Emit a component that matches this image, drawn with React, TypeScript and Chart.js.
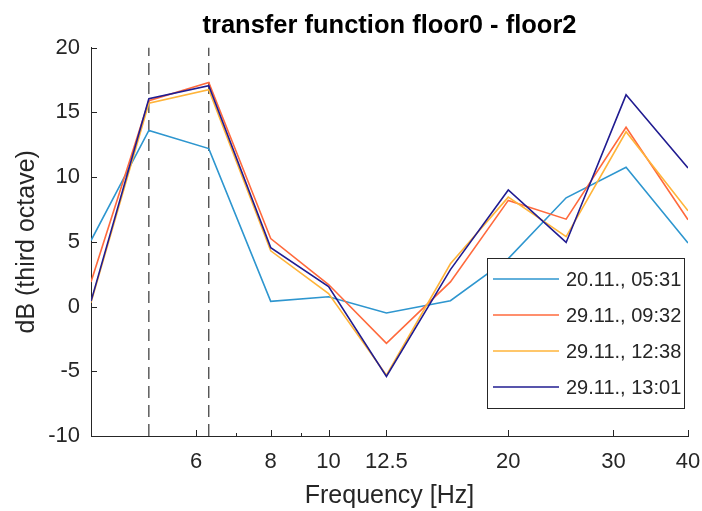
import React, { useEffect, useRef } from "react";
import { Chart, registerables } from "chart.js";

Chart.register(...registerables);

// ---- data ----
const frequencies = [4, 5, 6.3, 8, 10, 12.5, 16, 20, 25, 31.5, 40];
const seriesLabels = ["20.11., 05:31", "29.11., 09:32", "29.11., 12:38", "29.11., 13:01"];
const series0531 = [5.1, 13.6, 12.2, 0.4, 0.75, -0.5, 0.45, 3.7, 8.4, 10.75, 4.9];
const series0932 = [1.9, 15.9, 17.3, 5.25, 1.7, -2.85, 1.9, 8.2, 6.75, 13.85, 6.7];
const series1238 = [0.3, 15.7, 16.75, 4.3, 1.0, -5.3, 3.3, 8.45, 5.4, 13.5, 7.4];
const series1301 = [0.4, 16.05, 17.05, 4.55, 1.55, -5.4, 2.85, 9.0, 4.95, 16.35, 10.7];
const seriesValues = [series0531, series0932, series1238, series1301];
const seriesColors = ["#2E96CF", "#FF6A3D", "#FFB43A", "#211C91"];
const markerFrequencies = [5, 6.3];
const xTickValues = [6, 8, 10, 12.5, 20, 30, 40];
const xMinorTickValues = [7, 9];
const yTickValues = [-10, -5, 0, 5, 10, 15, 20];
const xRange = [4, 40];
const yRange = [-10, 20];
const titleText = "transfer function floor0 - floor2";
const xTitle = "Frequency [Hz]";
const yTitle = "dB (third octave)";

const FONT = '"Liberation Sans", Arial, Helvetica, sans-serif';
const AXIS_COLOR = "#262626";

const axisMarks = {
  id: "axisMarks",
  afterDatasetsDraw(chart: any) {
    const { ctx, chartArea, scales } = chart;
    ctx.save();
    ctx.strokeStyle = AXIS_COLOR;
    ctx.lineWidth = 1;
    ctx.beginPath();
    for (const v of yTickValues) {
      const y = Math.round(scales.y.getPixelForValue(v)) + 0.5;
      ctx.moveTo(chartArea.left, y);
      ctx.lineTo(chartArea.left + 6, y);
    }
    for (const v of xTickValues) {
      const x = Math.round(scales.x.getPixelForValue(v)) + 0.5;
      ctx.moveTo(x, chartArea.bottom);
      ctx.lineTo(x, chartArea.bottom - 6);
    }
    for (const v of xMinorTickValues) {
      const x = Math.round(scales.x.getPixelForValue(v)) + 0.5;
      ctx.moveTo(x, chartArea.bottom);
      ctx.lineTo(x, chartArea.bottom - 3);
    }
    ctx.stroke();
    ctx.restore();
  },
};

const boxLegend = {
  id: "boxLegend",
  afterDraw(chart: any) {
    const { ctx, chartArea } = chart;
    const w = 197;
    const h = 150;
    const right = chartArea.right - 4;
    const bottom = chartArea.bottom - 28;
    const left = right - w;
    const top = bottom - h;
    ctx.save();
    ctx.fillStyle = "#ffffff";
    ctx.fillRect(left, top, w, h);
    ctx.strokeStyle = AXIS_COLOR;
    ctx.lineWidth = 1;
    ctx.strokeRect(Math.round(left) + 0.5, Math.round(top) + 0.5, w, h);
    ctx.font = `20px ${FONT}`;
    ctx.textBaseline = "middle";
    ctx.textAlign = "left";
    seriesLabels.forEach((label, i) => {
      const y = top + 21 + i * 36;
      ctx.strokeStyle = seriesColors[i];
      ctx.lineWidth = 1.6;
      ctx.beginPath();
      ctx.moveTo(left + 6, y);
      ctx.lineTo(left + 72, y);
      ctx.stroke();
      ctx.fillStyle = AXIS_COLOR;
      ctx.fillText(label, left + 79, y + 1);
    });
    ctx.restore();
  },
};

export default function App() {
  const canvasRef = useRef<HTMLCanvasElement | null>(null);

  useEffect(() => {
    document.body.style.margin = "0";
    const canvas = canvasRef.current;
    if (!canvas) return;

    const lineSets = seriesValues.map((vals, i) => ({
      label: seriesLabels[i],
      data: frequencies.map((f, j) => ({ x: f, y: vals[j] })),
      borderColor: seriesColors[i],
      backgroundColor: seriesColors[i],
      borderWidth: 1.6,
      pointRadius: 0,
      tension: 0,
      fill: false,
      order: seriesValues.length - i,
    }));
    const markerSets = markerFrequencies.map((f) => ({
      label: "marker " + f,
      data: [
        { x: f, y: yRange[0] },
        { x: f, y: yRange[1] },
      ],
      borderColor: "#333333",
      borderWidth: 1.2,
      borderDash: [12, 7],
      pointRadius: 0,
      fill: false,
      order: 20,
    }));

    const chart = new Chart(canvas, {
      type: "line",
      data: { datasets: [...lineSets, ...markerSets] as any },
      options: {
        animation: false,
        responsive: false,
        devicePixelRatio: 1,
        layout: { padding: { top: 0, left: 0, right: 14, bottom: 0 } },
        plugins: {
          legend: { display: false },
          tooltip: { enabled: false },
          title: {
            display: true,
            text: titleText,
            fullSize: false,
            color: "#000000",
            font: { family: FONT, size: 25.5, weight: "bold" },
            padding: { top: 11, bottom: 6 },
          } as any,
        },
        scales: {
          x: {
            type: "logarithmic",
            min: xRange[0],
            max: xRange[1],
            afterBuildTicks: (s: any) => {
              s.ticks = xTickValues.map((v) => ({ value: v }));
            },
            afterFit: (s: any) => {
              s.height = 75;
              s.paddingLeft = 0;
              s.paddingRight = 0;
            },
            grid: { display: true, drawOnChartArea: false, drawTicks: false },
            border: { display: true, color: AXIS_COLOR, width: 1 },
            ticks: {
              autoSkip: false,
              maxRotation: 0,
              minRotation: 0,
              padding: 13,
              color: AXIS_COLOR,
              font: { family: FONT, size: 22 },
              callback: (v: any) => String(v),
            },
            title: {
              display: true,
              text: xTitle,
              color: AXIS_COLOR,
              font: { family: FONT, size: 25 },
              padding: { top: 0, bottom: 0 },
            },
          },
          y: {
            type: "linear",
            min: yRange[0],
            max: yRange[1],
            afterBuildTicks: (s: any) => {
              s.ticks = yTickValues.map((v) => ({ value: v }));
            },
            afterFit: (s: any) => {
              s.width = 91;
            },
            grid: { display: true, drawOnChartArea: false, drawTicks: false },
            border: { display: true, color: AXIS_COLOR, width: 1 },
            ticks: {
              padding: 11,
              color: AXIS_COLOR,
              font: { family: FONT, size: 22 },
              callback: (v: any) => String(v),
            },
            title: {
              display: true,
              text: yTitle,
              color: AXIS_COLOR,
              font: { family: FONT, size: 25 },
              padding: { top: 12, bottom: 0 },
            },
          },
        },
      } as any,
      plugins: [axisMarks, boxLegend],
    });

    return () => {
      chart.destroy();
    };
  }, []);

  return (
    <div style={{ position: "fixed", left: 0, top: 0, width: 702, height: 511, background: "#ffffff" }}>
      <canvas ref={canvasRef} width={702} height={511} />
    </div>
  );
}
